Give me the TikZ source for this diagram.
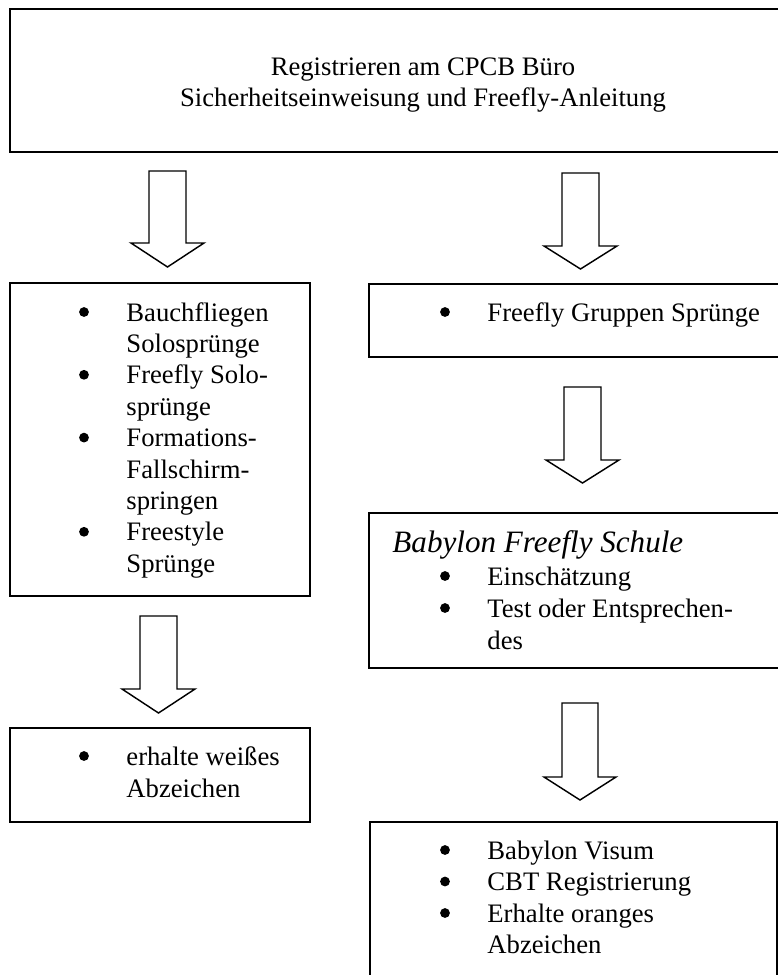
\documentclass[tikz,border=0pt]{standalone}
\usepackage{fontspec}
\setmainfont{Liberation Serif}
\usetikzlibrary{fit}
\tikzset{
  boxline/.style={draw=black, line width=0.9pt, inner sep=0pt, rectangle},
  arrowshape/.style={draw=black, line width=0.65pt, fill=white, line join=miter},
  txt/.style={inner sep=0pt, font=\fontsize{12}{14}\selectfont, anchor=base west},
  ctxt/.style={inner sep=0pt, font=\fontsize{12}{14}\selectfont, anchor=base},
  ttl/.style={inner sep=0pt, font=\fontsize{14}{16}\selectfont\itshape, anchor=base west},
  bul/.style={circle, fill=black, inner sep=0pt, minimum size=4.4pt}
}
% #1 shaft left x, #2 shaft right x, #3 top y, #4 head base y, #5 tip y
\newcommand\blockarr[5]{%
  \draw[arrowshape] (#1,#3) -- (#1,#4) -- ({#1-18},#4) -- ({(#1+#2)/2},#5)
    -- ({#2+18},#4) -- (#2,#4) -- (#2,#3) -- cycle;}
\begin{document}
\begin{tikzpicture}[x=0.45pt, y=-0.45pt]
\useasboundingbox (0,0) rectangle (778,975);
\clip (0,0) rectangle (778,975);
\fill[white] (0,0) rectangle (778,975);

% boxes
\node[boxline, fit={(10,9) (800,152)}] (top) {};
\node[boxline, fit={(9.5,283) (310,596)}] (left1) {};
\node[boxline, fit={(369,283.5) (800,357)}] (right1) {};
\node[boxline, fit={(369,513) (800,667.5)}] (right2) {};
\node[boxline, fit={(9.5,728) (310,822)}] (left2) {};
\node[boxline, fit={(369.5,822) (777,995)}] (right3) {};

% top box text
\node[ctxt] (t1) at (423,75) {Registrieren am CPCB Büro};
\node[ctxt] (t2) at (423,106.5) {Sicherheitseinweisung und Freefly-Anleitung};

% left box 1
\node[bul] (lb1) at (84,312) {};
\node[txt] (l1a) at (126,321) {Bauchfliegen};
\node[txt] (l1b) at (126,352.4) {Solosprünge};
\node[bul] (lb2) at (84,374.8) {};
\node[txt] (l1c) at (126,383.8) {Freefly Solo-};
\node[txt] (l1d) at (126,415.2) {sprünge};
\node[bul] (lb3) at (84,437.6) {};
\node[txt] (l1e) at (126,446.6) {Formations-};
\node[txt] (l1f) at (126,478) {Fallschirm-};
\node[txt] (l1g) at (126,509.4) {springen};
\node[bul] (lb4) at (84,531.8) {};
\node[txt] (l1h) at (126,540.8) {Freestyle};
\node[txt] (l1i) at (126,572.2) {Sprünge};

% right box 1
\node[bul] (rb1) at (445,312) {};
\node[txt] (r1a) at (487,321) {Freefly Gruppen Sprünge};

% right box 2
\node[ttl] (r2t) at (392,552) {Babylon Freefly Schule};
\node[bul] (rb2) at (445,576) {};
\node[txt] (r2a) at (487,585) {Einschätzung};
\node[bul] (rb3) at (445,608) {};
\node[txt] (r2b) at (487,617) {Test oder Entsprechen-};
\node[txt] (r2c) at (487,649) {des};

% left box 2
\node[bul] (lb5) at (84,756) {};
\node[txt] (l2a) at (126,765) {erhalte weißes};
\node[txt] (l2b) at (126,797) {Abzeichen};

% right box 3
\node[bul] (rb4) at (445,850) {};
\node[txt] (r3a) at (487,859) {Babylon Visum};
\node[bul] (rb5) at (445,881.5) {};
\node[txt] (r3b) at (487,890.5) {CBT Registrierung};
\node[bul] (rb6) at (445,913) {};
\node[txt] (r3c) at (487,922) {Erhalte oranges};
\node[txt] (r3d) at (487,953.5) {Abzeichen};

% block arrows
\blockarr{149}{186}{171}{243}{267}
\blockarr{562}{599}{173}{246}{269}
\blockarr{564}{601}{387}{460}{483}
\blockarr{140}{177}{616}{689}{713}
\blockarr{562}{598}{703}{777}{800}
\end{tikzpicture}
\end{document}
